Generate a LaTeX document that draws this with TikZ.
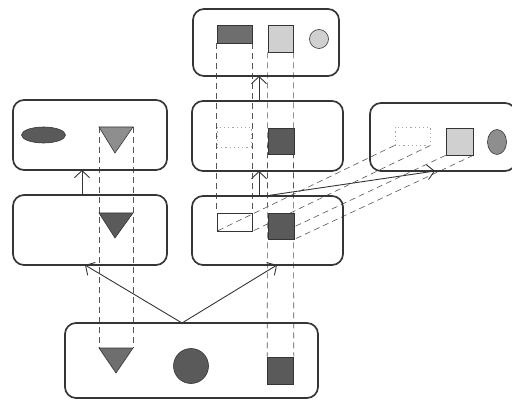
\documentclass[tikz,border=0pt]{standalone}
\usetikzlibrary{arrows.meta,shapes.geometric}
\pgfdeclarelayer{background}
\pgfsetlayers{background,main}
\definecolor{edge}{HTML}{353535}
\definecolor{darkfill}{HTML}{5A5A5A}
\definecolor{middark}{HTML}{6E6E6E}
\definecolor{midfill}{HTML}{8E8E8E}
\definecolor{lightfill}{HTML}{D0D0D0}
\definecolor{dashcol}{HTML}{555555}
\tikzset{
  box/.style={draw=edge, line width=1.7pt, rounded corners=11pt, inner sep=0pt},
  rectshape/.style={rectangle, draw=edge, line width=0.6pt, inner sep=0pt},
  dotbox/.style={rectangle, draw=gray!70, dash pattern=on 1.2pt off 3pt, line width=0.8pt, inner sep=0pt},
  roundshape/.style={circle, draw=edge, line width=0.6pt, inner sep=0pt},
  ovalshape/.style={ellipse, draw=edge, line width=0.6pt, inner sep=0pt},
  proj/.style={draw=dashcol, dash pattern=on 6pt off 4pt, line width=0.6pt},
  link/.style={draw=edge, line width=0.9pt, -{Straight Barb[length=7pt,width=15pt]}},
  tri/.style={draw=edge, line width=0.6pt}
}
\begin{document}
\begin{tikzpicture}[x=1pt,y=-1pt]
\useasboundingbox (0,0) rectangle (512,401);
% boxes
\node[box, minimum width=146pt, minimum height=67pt] (top) at (266,42.5) {};
\node[box, minimum width=154pt, minimum height=70pt] (ltwo) at (90,135) {};
\node[box, minimum width=151pt, minimum height=70pt] (mtwo) at (267.5,136) {};
\node[box, minimum width=146pt, minimum height=68pt] (rbox) at (443,137) {};
\node[box, minimum width=154pt, minimum height=70pt] (lthree) at (90,230) {};
\node[box, minimum width=151pt, minimum height=69pt] (mthree) at (267.5,230.5) {};
\node[box, minimum width=253pt, minimum height=75pt] (bot) at (191.5,360.5) {};
% top box shapes
\node[rectshape, fill=middark, minimum width=35pt, minimum height=18pt] (toprect) at (234.5,34) {};
\node[rectshape, fill=lightfill, minimum width=25pt, minimum height=27pt] (topsq) at (280.5,38.5) {};
\node[roundshape, fill=lightfill, minimum size=19pt] (topcirc) at (319,39) {};
% middle row 2
\node[dotbox, minimum width=34pt, minimum height=20pt] (mtwodot) at (234,137) {};
\node[rectshape, fill=darkfill, minimum width=26pt, minimum height=26pt] (mtwosq) at (281,141) {};
% right box
\node[dotbox, minimum width=35pt, minimum height=18pt] (rdot) at (412.5,136) {};
\node[rectshape, fill=lightfill, minimum width=27pt, minimum height=27pt] (rsq) at (459.5,141.5) {};
\node[ovalshape, fill=midfill, minimum width=19pt, minimum height=25pt] (roval) at (497,142) {};
% middle row 3
\node[rectshape, minimum width=35pt, minimum height=18pt] (mthreerect) at (234.5,222) {};
\node[rectshape, fill=darkfill, minimum width=26pt, minimum height=26pt] (mthreesq) at (281,226) {};
% left row 2
\node[ovalshape, fill=darkfill, minimum width=44pt, minimum height=16pt] (ltwooval) at (43.5,135) {};
\coordinate (ltwotl) at (99,127);
\coordinate (ltwotr) at (133,127);
\coordinate (ltwoap) at (115,153);
\draw[tri, fill=midfill] (ltwotl) -- (ltwotr) -- (ltwoap) -- cycle;
% left row 3
\coordinate (lthreetl) at (99,213);
\coordinate (lthreetr) at (133,213);
\coordinate (lthreeap) at (115,238);
\draw[tri, fill=darkfill] (lthreetl) -- (lthreetr) -- (lthreeap) -- cycle;
% bottom box
\coordinate (bottl) at (99,348);
\coordinate (bottr) at (133,348);
\coordinate (botap) at (116,373);
\draw[tri, fill=middark] (bottl) -- (bottr) -- (botap) -- cycle;
\node[roundshape, fill=darkfill, minimum size=35pt] (botcirc) at (191,366) {};
\node[rectshape, fill=darkfill, minimum width=26pt, minimum height=27pt] (botsq) at (280.5,370.5) {};
% projection lines
\begin{pgfonlayer}{background}
\draw[proj] (ltwotl) -- (bottl);
\draw[proj] (ltwotr) -- (bottr);
\draw[proj] (toprect.south west) -- (mthreerect.north west);
\draw[proj] (toprect.south east) -- (mthreerect.north east);
\draw[proj] (topsq.south west) -- (botsq.north west);
\draw[proj] (topsq.south east) -- (botsq.north east);
\draw[proj] (rdot.south west) -- (mthreerect.south west);
\draw[proj] (rdot.south east) -- (mthreerect.south east);
\draw[proj] (rsq.south west) -- (mthreesq.south west);
\draw[proj] (rsq.south east) -- (mthreesq.south east);
\end{pgfonlayer}
% arrows
\coordinate (botmid) at (182,323);
\draw[link] (botmid) -- (85,265);
\draw[link] (botmid) -- (277,265);
\draw[link] (82,195) -- (82,170);
\draw[link] (259,196) -- (259,171);
\draw[link] (259,101) -- (259,76);
\draw[link] (265,196) -- (435,171);
\end{tikzpicture}
\end{document}
